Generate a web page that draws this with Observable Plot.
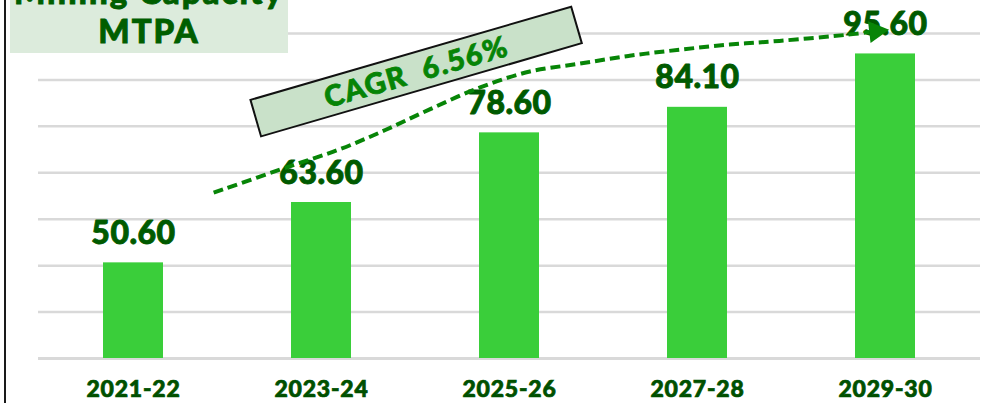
<!DOCTYPE html>
<html><head><meta charset="utf-8">
<script src="https://cdn.jsdelivr.net/npm/d3@7"></script>
<script src="https://cdn.jsdelivr.net/npm/@observablehq/plot@0.6"></script>
<style>
body{margin:0;background:#fff;}
#wrap{position:relative;width:986px;height:403px;overflow:hidden;}
</style></head><body><div id="wrap"></div>
<script>
const categories = ["2021-22", "2023-24", "2025-26", "2027-28", "2029-30"];
const values = [50.60, 63.60, 78.60, 84.10, 95.60];
const valueLabels = ["50.60", "63.60", "78.60", "84.10", "95.60"];
const yDomain = [30, 100];
const yTicks = [30, 40, 50, 60, 70, 80, 90, 100];
const titleLines = ["Mining Capacity", "MTPA"];
const cagrLabel = "CAGR  6.56%";
const cagrAt = {index: 1.506, value: 91.7};
// trend arrow path in data space (band index offset, value)
const trendIndex = [0.429, 0.838, 1.103, 1.342, 1.581, 1.847, 2.111, 2.377, 2.642, 2.908, 3.173, 3.438, 3.794, 4.022];
const trendValue = [65.6, 71.35, 75.0, 79.1, 83.6, 88.3, 91.7, 93.4, 95.1, 96.4, 97.5, 98.3, 99.6, 100.7];

const data = categories.map((c, i) => ({year: c, value: values[i], label: valueLabels[i]}));
const font = "Lato, 'Open Sans', sans-serif";

const chart = Plot.plot({
  width: 986, height: 403,
  marginLeft: 38, marginRight: 6, marginTop: 33, marginBottom: 45,
  style: {fontFamily: font, background: "#fff", overflow: "visible"},
  x: {domain: categories, paddingInner: 0.68, paddingOuter: 0.34, label: null},
  y: {domain: yDomain, axis: null},
  marks: [
    Plot.gridY(yTicks.slice(1), {stroke: "#d9d9d9", strokeOpacity: 1, strokeWidth: 2.5}),
    Plot.ruleY([yDomain[0]], {stroke: "#d9d9d9", strokeWidth: 3}),
    Plot.barY(data, {x: "year", y1: yDomain[0], y2: "value", fill: "#3ace3a"}),
    Plot.text(data, {x: "year", y: "value", text: "label", dy: -19, lineAnchor: "bottom",
      fontSize: 32, fontWeight: 900, fill: "#005a00", stroke: "#005a00", strokeWidth: 0.9}),
    Plot.axisX({tickSize: 0, tickPadding: 22, fontSize: 23, color: "#005000", label: null})
  ]
});
document.getElementById("wrap").appendChild(chart);

const svg = d3.select(chart);
svg.selectAll('g[aria-label="x-axis tick label"]').attr("font-weight", 900)
  .attr("stroke", "#005000").attr("stroke-width", 0.7);
svg.selectAll('g[aria-label="x-axis tick label"] text').style("letter-spacing", "0.8px");
svg.selectAll('g[aria-label="text"] text').style("letter-spacing", "0.5px");

const xs = chart.scale("x"), ys = chart.scale("y");
const step = xs.apply(categories[1]) - xs.apply(categories[0]);
const x0 = xs.apply(categories[0]) + xs.bandwidth / 2;
const px = t => x0 + t * step;
const py = v => ys.apply(v);

// trend arrow
const pts = trendIndex.map((t, k) => [px(t), py(trendValue[k])]);
const tip = pts[pts.length - 1], prev = pts[pts.length - 2];
let dx = tip[0] - prev[0], dy = tip[1] - prev[1];
const len = Math.hypot(dx, dy); dx /= len; dy /= len;
const headLen = 20, headHalf = 11;
const base = [tip[0] - headLen * dx, tip[1] - headLen * dy];
const curvePts = pts.slice(0, -1).concat([base]);
svg.append("path")
  .attr("d", d3.line().curve(d3.curveCatmullRom)(curvePts))
  .attr("fill", "none").attr("stroke", "#078507").attr("stroke-width", 4)
  .attr("stroke-dasharray", "10 5");
svg.append("polygon")
  .attr("points", [tip, [base[0] - dy * headHalf, base[1] + dx * headHalf], [base[0] + dy * headHalf, base[1] - dx * headHalf]].map(p => p.join(",")).join(" "))
  .attr("fill", "#078507");

// CAGR box
const cg = svg.append("g").attr("transform", `translate(${px(cagrAt.index)},${py(cagrAt.value)}) rotate(-16.2)`);
cg.append("rect").attr("x", -167).attr("y", -19).attr("width", 334).attr("height", 38)
  .attr("fill", "#c9e1c9").attr("stroke", "#111").attr("stroke-width", 2);
cg.append("text").text(cagrLabel).attr("text-anchor", "middle").attr("dy", "0.36em")
  .style("white-space", "pre").attr("font-size", 29).attr("font-weight", 900)
  .attr("fill", "#068406").attr("stroke", "#068406").attr("stroke-width", 0.8)
  .style("letter-spacing", "1.5px").attr("font-family", font);

// title box
svg.append("rect").attr("x", 10).attr("y", -5).attr("width", 278).attr("height", 58).attr("fill", "#dcebdc");
const tt = svg.append("text").attr("text-anchor", "middle").attr("font-size", 33).attr("font-weight", 900)
  .attr("fill", "#005e00").attr("stroke", "#005e00").attr("stroke-width", 0.9)
  .attr("font-family", font).style("letter-spacing", "2px");
tt.append("tspan").attr("x", 149).attr("y", 4).text(titleLines[0]);
tt.append("tspan").attr("x", 149).attr("y", 43).text(titleLines[1]);

// left frame line
svg.append("line").attr("x1", 5).attr("x2", 5).attr("y1", 0).attr("y2", 403)
  .attr("stroke", "#1a1a1a").attr("stroke-width", 2);
</script></body></html>
